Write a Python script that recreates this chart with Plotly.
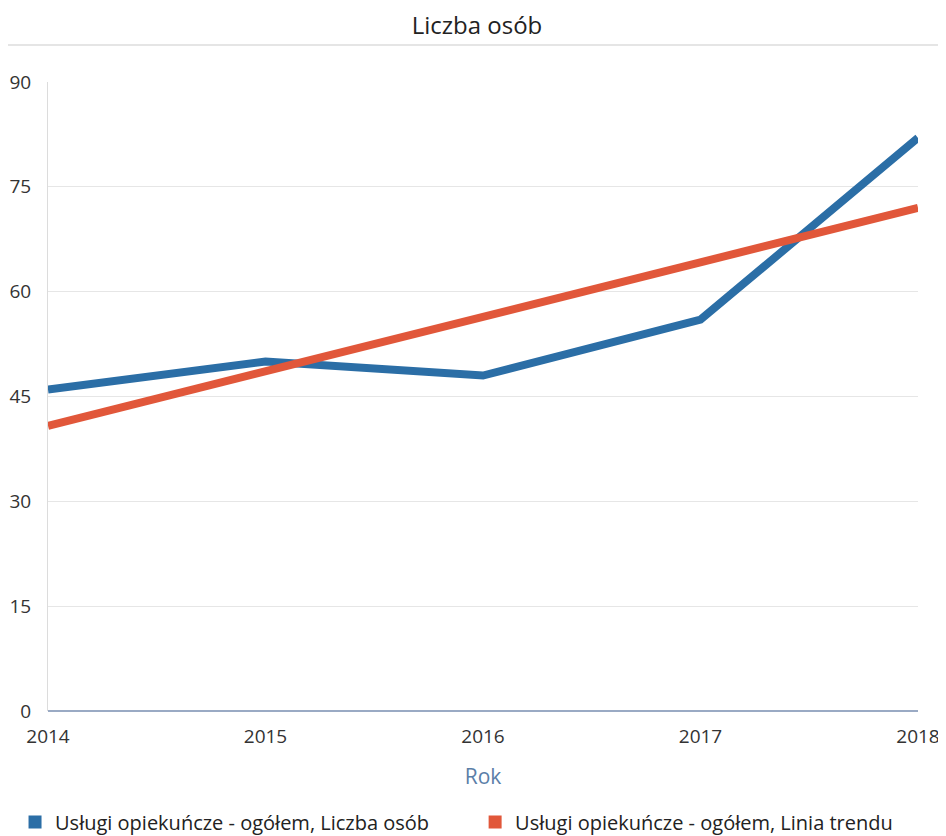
import plotly.graph_objects as go

years = [2014, 2015, 2016, 2017, 2018]
liczba_osob = [46, 50, 48, 56, 82]
linia_trendu = [40.8, 48.6, 56.4, 64.2, 72.0]

y_ticks = [0, 15, 30, 45, 60, 75, 90]

BLUE = "#2b6ea6"
ORANGE = "#e1573a"
FONT = "Open Sans"

# page has an 8px body margin, so the figure is a bit smaller than the window
W, H = 938, 828

fig = go.Figure()

# actual lines (legend drawn separately with square markers)
fig.add_trace(go.Scatter(
    x=years, y=liczba_osob, mode="lines",
    line=dict(color=BLUE, width=8),
    showlegend=False, cliponaxis=False,
))
fig.add_trace(go.Scatter(
    x=years, y=linia_trendu, mode="lines",
    line=dict(color=ORANGE, width=8),
    showlegend=False, cliponaxis=False,
))

# legend entries
fig.add_trace(go.Scatter(
    x=[None], y=[None], mode="markers",
    marker=dict(symbol="square", size=13, color=BLUE),
    name="Usługi opiekuńcze - ogółem, Liczba osób", legend="legend",
))
fig.add_trace(go.Scatter(
    x=[None], y=[None], mode="markers",
    marker=dict(symbol="square", size=13, color=ORANGE),
    name="Usługi opiekuńcze - ogółem, Linia trendu", legend="legend2",
))

legend_style = dict(orientation="h", xref="container", yref="container",
                    yanchor="middle", y=0.017, xanchor="left",
                    font=dict(size=20, color="#222222"), itemwidth=30,
                    bgcolor="rgba(0,0,0,0)")

fig.update_layout(
    width=W, height=H,
    margin=dict(l=40, r=28, t=74, b=125, autoexpand=False),
    paper_bgcolor="white", plot_bgcolor="white",
    font=dict(family=FONT, size=19, color="#333333"),
    title=dict(text="Liczba osób", x=0.5, xanchor="center", y=0.979, yanchor="middle",
               font=dict(family=FONT, size=24, color="#222222")),
    legend=dict(legend_style, x=0.0075),
    legend2=dict(legend_style, x=0.498),
    shapes=[dict(type="line", xref="paper", yref="paper",
                 x0=-0.05, x1=1.035, y0=1.059, y1=1.059,
                 line=dict(color="#dddddd", width=1.5))],
)

fig.update_xaxes(
    range=[2014, 2018], tickvals=years, ticktext=[str(y) for y in years],
    showgrid=False, zeroline=False, showline=False, ticks="",
    ticklabelstandoff=12, ticklabeloverflow="allow",
    tickfont=dict(size=19, color="#333333"),
    title=dict(text="Rok", font=dict(size=21, color="#5b7ea8"), standoff=21),
)
fig.update_yaxes(
    range=[0, 90], tickvals=y_ticks,
    showgrid=True, gridcolor="#e6e6e6", gridwidth=1,
    zeroline=True, zerolinecolor="#9aaac4", zerolinewidth=1.5,
    showline=True, linecolor="#dcdcdc", linewidth=1,
    ticks="", ticklabelstandoff=12,
    tickfont=dict(size=19, color="#333333"),
)

fig.write_html("out.html")
